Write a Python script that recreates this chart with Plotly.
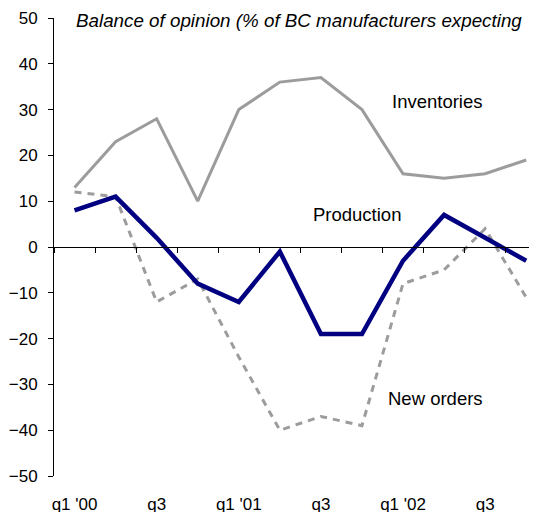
import plotly.graph_objects as go

categories = ["q1 '00", "q2 '00", "q3 '00", "q4 '00",
              "q1 '01", "q2 '01", "q3 '01", "q4 '01",
              "q1 '02", "q2 '02", "q3 '02", "q4 '02"]
tick_labels = ["q1 '00", "q3", "q1 '01", "q3", "q1 '02", "q3"]
inventories = [13, 23, 28, 10, 30, 36, 37, 30, 16, 15, 16, 19]
production = [8, 11, 2, -8, -12, -1, -19, -19, -3, 7, 2, -3]
new_orders = [12, 11, -12, -7, -24, -40, -37, -39, -8, -5, 4, -11]

FONT = "Arial, Liberation Sans, sans-serif"
GRAY = "#9c9c9c"
NAVY = "#000080"

fig = go.Figure()
fig.add_trace(go.Scatter(x=categories, y=inventories, mode="lines",
                         line=dict(color=GRAY, width=3), xaxis="x", yaxis="y",
                         name="Inventories"))
fig.add_trace(go.Scatter(x=categories, y=new_orders, mode="lines",
                         line=dict(color=GRAY, width=3, dash="7px,6px"),
                         xaxis="x2", yaxis="y", name="New orders"))
fig.add_trace(go.Scatter(x=categories, y=production, mode="lines",
                         line=dict(color=NAVY, width=4.5), xaxis="x2", yaxis="y",
                         name="Production"))

xr = [-0.5, 11.263]
fig.update_layout(
    width=529, height=504,
    margin=dict(l=46, r=0, t=10, b=36, autoexpand=False),
    paper_bgcolor="white", plot_bgcolor="white",
    showlegend=False,
    font=dict(family=FONT, size=17, color="black"),
    xaxis=dict(type="category", categoryorder="array", categoryarray=categories,
               range=xr, showline=False, showgrid=False, zeroline=False,
               ticks="", tickmode="array", automargin=False,
               tickvals=categories[::2], ticktext=tick_labels,
               ticklabelstandoff=16, tickfont=dict(size=17)),
    xaxis2=dict(type="category", categoryorder="array", categoryarray=categories,
                range=xr, overlaying="x", anchor="free", position=0.5,
                showline=True, linecolor="black", linewidth=1, automargin=False,
                showgrid=False, zeroline=False, showticklabels=False,
                ticks="outside", ticklen=5, tickcolor="black", tickwidth=1,
                tickson="boundaries"),
    yaxis=dict(range=[-50, 50], dtick=10, tick0=0, showline=True,
               linecolor="black", linewidth=1, showgrid=False, zeroline=False,
               ticks="outside", ticklen=5, tickcolor="black", tickwidth=1,
               automargin=False,
               ticklabelstandoff=7, tickfont=dict(size=17)),
    annotations=[
        dict(text="<i>Balance of opinion (% of BC manufacturers expecting</i>",
             xref="paper", yref="paper", x=(74 - 54) / 483, y=0.9956,
             xanchor="left", yanchor="middle", showarrow=False,
             font=dict(size=18.8)),
        dict(text="Inventories", xref="x", yref="y", x=8.85, y=31.7,
             showarrow=False, font=dict(size=18.5)),
        dict(text="Production", xref="x", yref="y", x=6.88, y=7,
             showarrow=False, font=dict(size=18.5)),
        dict(text="New orders", xref="x", yref="y", x=8.78, y=-33,
             showarrow=False, font=dict(size=18.5)),
    ],
)

fig.write_html("out.html")
